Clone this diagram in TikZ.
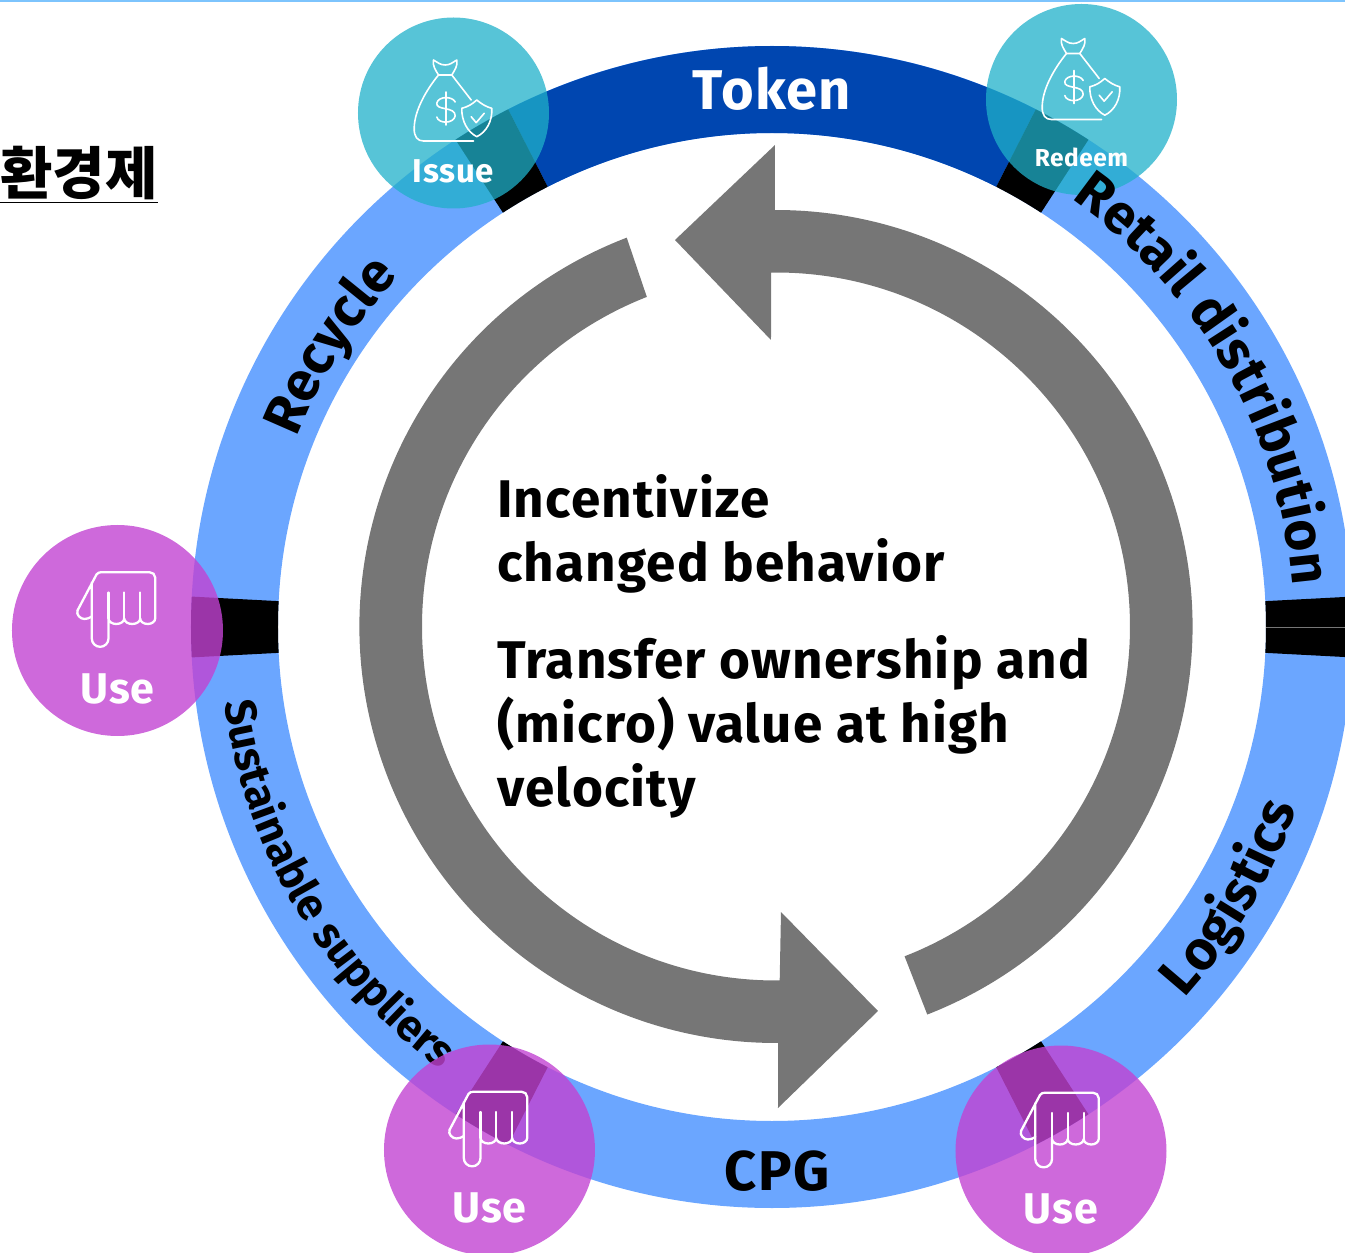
\documentclass[tikz,border=0pt]{standalone}
\usepackage{fontspec}
\usetikzlibrary{decorations.text}
\setmainfont{Fira Sans}[LetterSpace=2.2]
\newfontfamily\krfont{Noto Sans CJK KR}
\definecolor{ringblue}{RGB}{107,166,255}
\definecolor{tokenblue}{RGB}{0,70,176}
\definecolor{issueteal}{RGB}{31,176,201}
\definecolor{usepurple}{RGB}{194,67,210}
\definecolor{cyclegray}{RGB}{118,118,118}
\definecolor{topline}{RGB}{125,196,253}
\newcommand{\fnt}[1]{\fontsize{#1}{#1}\bfseries\selectfont}
\tikzset{
  badge/.style={circle,inner sep=0pt,fill opacity=#1},
  icon/.style={white,line width=1.6pt,line cap=round,line join=round},
  handline/.style={icon,line width=2.3pt},
  curvelabel/.style={decorate,decoration={text along path,text align=center,text={#1}}},
  badgetext/.style={white,inner sep=0pt,anchor=center},
  centretext/.style={anchor=base west,inner sep=0pt,align=left,font=\fontsize{53}{64}\bfseries\selectfont},
  % Money bag with a small shield
  pics/bagicon/.style={code={
    \draw[icon] (-20,53) to[out=-30,in=180] (-8.3,48) to[out=0,in=210] (3.3,53)
      to[out=-80,in=60] (-1.7,38) -- (-15,38) to[out=120,in=-100] (-20,53);
    \draw[icon] (-15,38) .. controls (-28,22) and (-39,2) .. (-39.3,-15)
      .. controls (-39.5,-24) and (-36,-28) .. (-30,-28) -- (20,-28);
    \draw[icon] (-1.7,38) -- (17.7,13);
    \draw[icon] (1.7,11) .. controls (-1,17) and (-15,17) .. (-16.7,10)
      .. controls (-18,2) and (2,7) .. (1.7,-3) .. controls (0,-11) and (-15,-11) .. (-16.7,-4);
    \draw[icon] (-7.3,21) -- (-7.3,-12);
    \draw[icon] (23.3,13) .. controls (28,9) and (33,6) .. (38.3,4.7)
      .. controls (39,-8) and (33,-19) .. (23.3,-23.7)
      .. controls (14,-19) and (8,-8) .. (8.3,4.7)
      .. controls (14,6) and (19,9) .. (23.3,13);
    \draw[icon] (17.7,-3.7) -- (22.7,-9.7) -- (30.7,-0.3);
  }},
  % Hand pointing down
  pics/handicon/.style={code={
    \draw[handline] (-40,20) -- (-21,56) to[out=55,in=180] (-16,58.3) -- (32,58.3)
      to[out=0,in=90] (37.7,53) -- (37.7,12) arc[start angle=0,end angle=-180,x radius=7.5,y radius=5.5]
      arc[start angle=0,end angle=-180,x radius=8,y radius=5.5]
      arc[start angle=0,end angle=-180,x radius=7.85,y radius=5.5]
      -- (-9,-8) arc[start angle=0,end angle=-180,radius=8.35] -- (-25.7,48);
    \draw[handline] (-40,20) to[out=-110,in=180] (-33,11.5) to[out=0,in=-150] (-25.7,14);
    \draw[handline] (22.7,12) -- (22.7,38) (6.7,12) -- (6.7,38) (-9,12) -- (-9,38);
  }}
}

\begin{document}
\begin{tikzpicture}[x=1pt,y=1pt]
    \useasboundingbox (-772,-626) rectangle (573,627);
    \clip (-772,-626) rectangle (573,627);

    % Top edge
    \fill[topline] (-772,627) rectangle (573,625);

    % Ring
    \fill[ringblue,even odd rule] (0,0) circle[radius=581] (0,0) circle[radius=494];
    \fill[tokenblue] (63:581) arc[start angle=63,end angle=117,radius=581]
      -- (117:494) arc[start angle=117,end angle=63,radius=494] -- cycle;

    % Separators
    \foreach \Ang in {0,60,120,180,240,300}
    {
      \fill[black] (\Ang-3:581) arc[start angle=\Ang-3,end angle=\Ang+3,radius=581]
        -- (\Ang+3:494) arc[start angle=\Ang+3,end angle=\Ang-3,radius=494] -- cycle;
    }
    \draw[cyclegray,line width=0.7pt] (494,0) -- (581,0);

    % Cycle arrows
    \begin{scope}[shift={(4,0.5)}]
      \fill[cyclegray] (-68.7:416.5) arc[start angle=-68.7,end angle=90.14,radius=416.5]
        -- (-1,481.5) -- (-101,386.5) -- (-5,286.5) -- (90.8:354)
        arc[start angle=90.8,end angle=-68.7,radius=354] -- cycle;
      \fill[cyclegray] (111:416.5) arc[start angle=111,end angle=270.3,radius=416.5]
        -- (2,-481.5) -- (102,-384.5) -- (5,-285.5) -- (270.6:354)
        arc[start angle=270.6,end angle=111.4,radius=354] -- cycle;
    \end{scope}

    % Ring labels
    \node[white,inner sep=0pt] (token) at (0,538) {\fnt{56}Token};
    \node[inner sep=0pt] (cpg) at (5,-544) {\fnt{56}CPG};
    \path[curvelabel={|\fnt{55}|Recycle}] (177.5:512) arc[start angle=177.5,end angle=117.5,radius=512];
    \path[curvelabel={|\fnt{55}|Logistics}] (-60.5:555) arc[start angle=-60.5,end angle=-0.5,radius=555];
    \path[curvelabel={|\fnt{44}|Sustainable suppliers}] (175:553) arc[start angle=175,end angle=246,radius=553];

    % Badges
    \node[badge=0.75,fill=issueteal,minimum size=191] (issue) at (-318.5,514) {};
    \node[badge=0.75,fill=issueteal,minimum size=191] (redeem) at (309.5,527.5) {};
    \node[badge=0.8,fill=usepurple,minimum size=211] (useleft) at (-654.5,-3.5) {};
    \node[badge=0.8,fill=usepurple,minimum size=211] (usemid) at (-282.5,-523) {};
    \node[badge=0.8,fill=usepurple,minimum size=211] (useright) at (289,-524) {};

    \pic at (issue) {bagicon};
    \pic at ([yshift=8]redeem) {bagicon};
    \foreach \Nm in {useleft,usemid,useright}
    {
      \pic at (\Nm) {handicon};
      \node[badgetext] (\Nm text) at ([yshift=-58]\Nm) {\fnt{43}Use};
    }
    \node[badgetext] (issuetext) at ([yshift=-58]issue) {\fnt{33}Issue};
    \node[badgetext] (redeemtext) at ([yshift=-58]redeem) {\fnt{24.5}Redeem};

    \path[curvelabel={|\fnt{55}|Retail distribution}] (65.8:522) arc[start angle=65.8,end angle=-6.2,radius=522];

    % Centre text
    \node[centretext] (incentive) at (-275,45) {Incentivize\\changed behavior};
    \node[centretext] (transfer) at (-275,-179) {Transfer ownership and\\(micro) value at high\\velocity};

    \node[anchor=base west,inner sep=0pt] (title) at (-772,432) {\krfont\fontsize{57}{57}\bfseries\selectfont\underline{환경제}};
\end{tikzpicture}
\end{document}
